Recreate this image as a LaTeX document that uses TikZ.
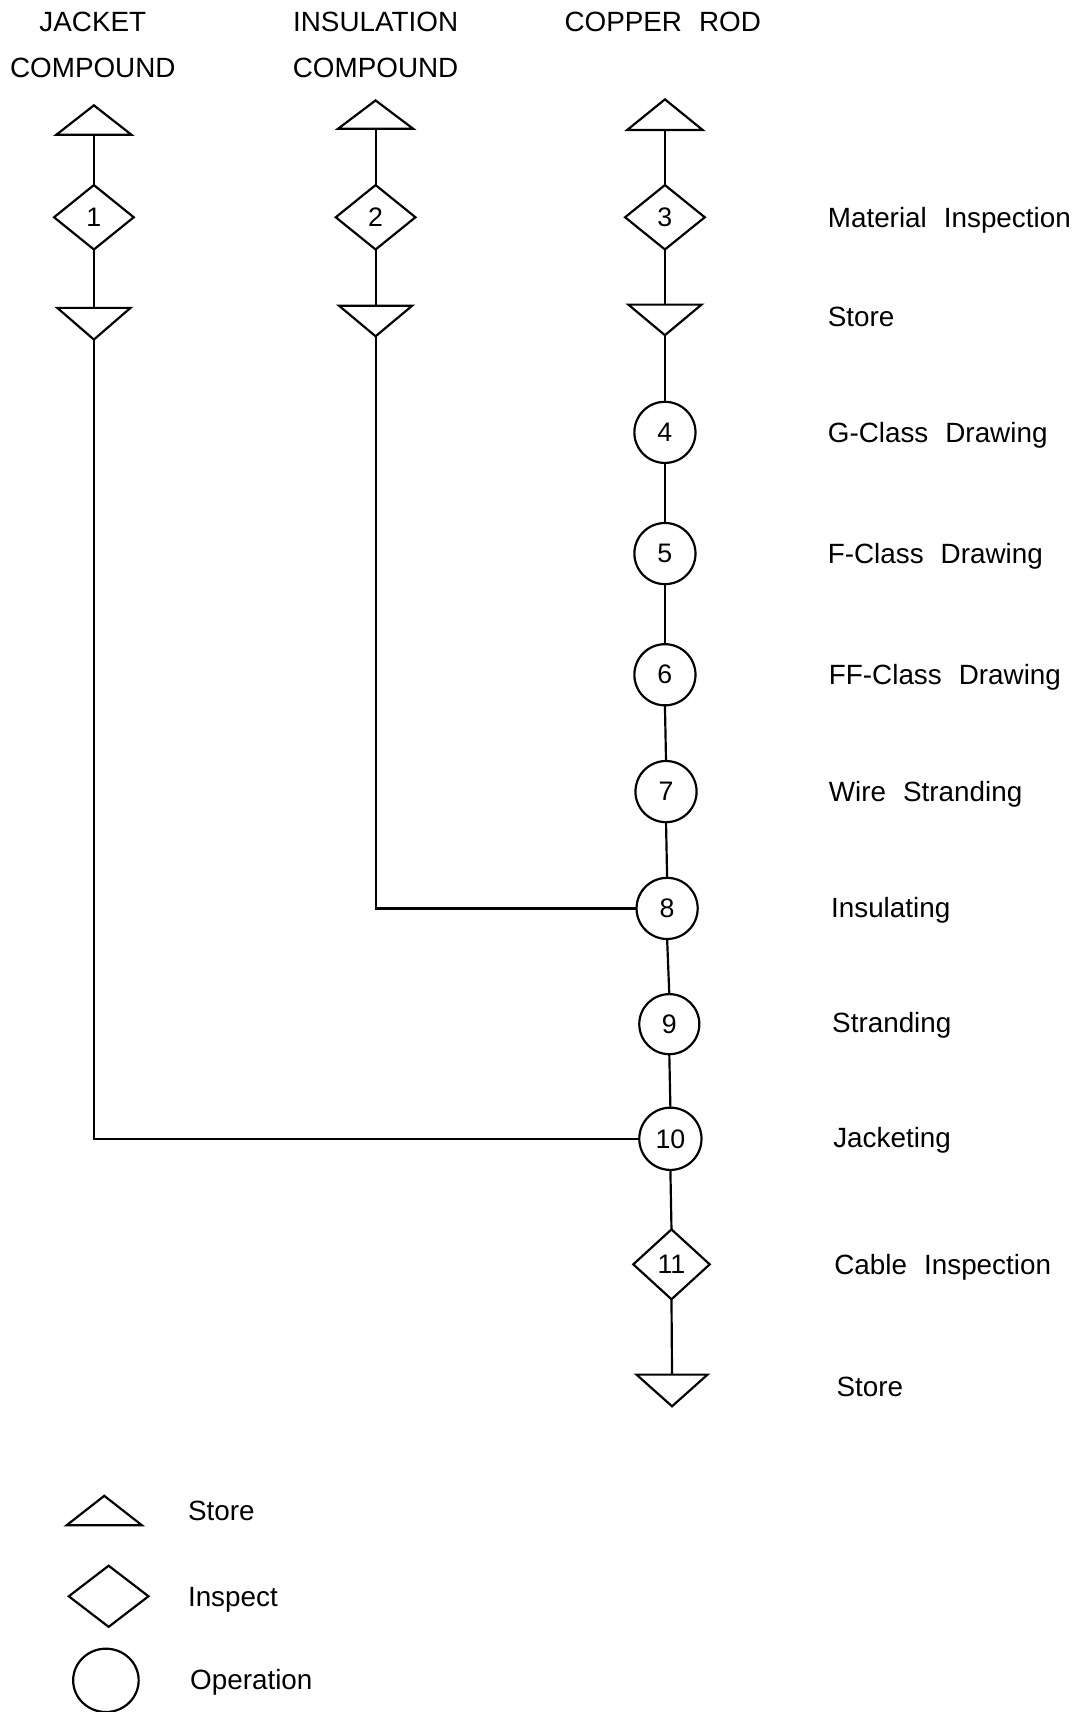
\documentclass[tikz,border=0pt]{standalone}
\usepackage{fontspec}
\setmainfont{Liberation Sans}[WordSpace=2.2]
\usetikzlibrary{shapes.geometric}
\begin{document}
\begin{tikzpicture}[x=1pt,y=-1pt,
  shapeline/.style={line width=2pt, line join=miter},
  flow/.style={line width=2pt},
  storeup/.style={rectangle, inner sep=0pt, outer sep=0pt, minimum width=69pt, minimum height=28pt,
    append after command={\pgfextra{\let\mytrinode=\tikzlastnode
      \draw[shapeline] (\mytrinode.south west) -- (\mytrinode.south east) -- (\mytrinode.north) -- cycle;}}},
  storedown/.style={rectangle, inner sep=0pt, outer sep=0pt, minimum width=67pt, minimum height=29pt,
    append after command={\pgfextra{\let\mytrinode=\tikzlastnode
      \draw[shapeline] (\mytrinode.north west) -- (\mytrinode.north east) -- (\mytrinode.south) -- cycle;}}},
  inspect/.style={diamond, draw, shapeline, aspect=1, inner sep=0pt, outer sep=0pt,
    minimum width=73pt, minimum height=59pt, font=\fontsize{24.5}{26}\selectfont},
  oper/.style={circle, draw, shapeline, inner sep=0pt, outer sep=0pt, minimum size=56pt,
    font=\fontsize{24.5}{26}\selectfont},
  title/.style={anchor=base, inner sep=0pt, font=\fontsize{25.5}{28}\selectfont},
  lab/.style={anchor=base west, inner sep=0pt, font=\fontsize{25.5}{28}\selectfont}
]
\useasboundingbox (0,0) rectangle (989,1568);

% titles
\node[title] (t1a) at (85,29) {JACKET};
\node[title] (t1b) at (85,71) {COMPOUND};
\node[title] (t2a) at (344,29) {INSULATION};
\node[title] (t2b) at (344,71) {COMPOUND};
\node[title] (t3a) at (607,29) {COPPER ROD};

% column 1
\node[storeup, minimum height=27pt] (u1) at (86,110) {};
\node[inspect] (i1) at (86,199) {1};
\node[storedown] (d1) at (86,296.5) {};
% column 2
\node[storeup, minimum height=26pt] (u2) at (344,105) {};
\node[inspect] (i2) at (344,199) {2};
\node[storedown, minimum height=28pt] (d2) at (344,294) {};
% column 3
\node[storeup] (u3) at (609,105) {};
\node[inspect] (i3) at (609,199) {3};
\node[storedown, minimum height=28pt] (d3) at (609,293) {};
\node[oper] (c4) at (609,396) {4};
\node[oper] (c5) at (609,507) {5};
\node[oper] (c6) at (609,618) {6};
\node[oper] (c7) at (610,725) {7};
\node[oper] (c8) at (611,832) {8};
\node[oper, minimum size=55pt] (c9) at (613,938) {9};
\node[oper, minimum size=57pt] (c10) at (614,1043) {10};
\node[inspect, minimum width=70pt, minimum height=64pt] (i11) at (615,1158) {11};
\node[storedown, minimum width=65pt] (d11) at (615.5,1273.5) {};

% connectors
\draw[flow] (u1.south) -- (i1.north);
\draw[flow] (i1.south) -- (d1.north);
\draw[flow] (u2.south) -- (i2.north);
\draw[flow] (i2.south) -- (d2.north);
\draw[flow] (u3.south) -- (i3.north);
\draw[flow] (i3.south) -- (d3.north);
\draw[flow] (d3.south) -- (c4.north);
\draw[flow] (c4.south) -- (c5.north);
\draw[flow] (c5.south) -- (c6.north);
\draw[flow] (c6.south) -- (c7.north);
\draw[flow] (c7.south) -- (c8.north);
\draw[flow] (c8.south) -- (c9.north);
\draw[flow] (c9.south) -- (c10.north);
\draw[flow] (c10.south) -- (i11.north);
\draw[flow] (i11.south) -- (d11.north);
\draw[flow] (d2.south) |- (c8.west);
\draw[flow] (d1.south) |- (c10.west);

% step labels
\node[lab] (l3) at (758,208) {Material Inspection};
\node[lab] (ls1) at (758,299) {Store};
\node[lab] (l4) at (758,405) {G-Class Drawing};
\node[lab] (l5) at (758,516) {F-Class Drawing};
\node[lab] (l6) at (759,627) {FF-Class Drawing};
\node[lab] (l7) at (759,734) {Wire Stranding};
\node[lab] (l8) at (761,840) {Insulating};
\node[lab] (l9) at (762,946) {Stranding};
\node[lab] (l10) at (763,1051) {Jacketing};
\node[lab] (l11) at (764,1167) {Cable Inspection};
\node[lab] (ls2) at (766,1279) {Store};

% legend
\node[storeup, minimum height=27pt] (kstore) at (95.5,1383.5) {};
\node[lab] (kstoret) at (172,1393) {Store};
\node[inspect, minimum height=56pt] (kinsp) at (99.5,1462) {};
\node[lab] (kinspt) at (172,1471) {Inspect};
\node[ellipse, draw, shapeline, inner sep=0pt, minimum width=60pt, minimum height=58pt] (kop) at (97,1539) {};
\node[lab] (kopt) at (174,1547) {Operation};
\end{tikzpicture}
\end{document}
